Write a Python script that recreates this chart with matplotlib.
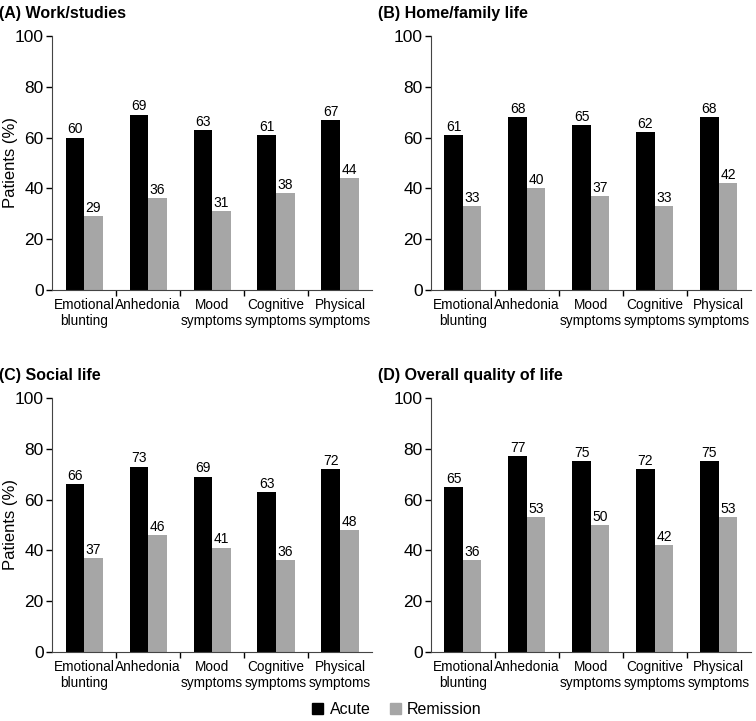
import numpy as np
import matplotlib.pyplot as plt
from matplotlib.patches import Patch

plt.rcParams['font.family'] = ['Liberation Sans', 'DejaVu Sans']

# data
categories = ['Emotional\nblunting', 'Anhedonia', 'Mood\nsymptoms', 'Cognitive\nsymptoms', 'Physical\nsymptoms']
titles = ['(A) Work/studies', '(B) Home/family life', '(C) Social life', '(D) Overall quality of life']
acute = [
    [60, 69, 63, 61, 67],
    [61, 68, 65, 62, 68],
    [66, 73, 69, 63, 72],
    [65, 77, 75, 72, 75],
]
remission = [
    [29, 36, 31, 38, 44],
    [33, 40, 37, 33, 42],
    [37, 46, 41, 36, 48],
    [36, 53, 50, 42, 53],
]
yticks = [0, 20, 40, 60, 80, 100]

c_acute = '#000000'
c_rem = '#a6a6a6'

fig = plt.figure(figsize=(7.56, 7.21), dpi=100)
lefts = [0.069, 0.570]
bottoms = [0.598, 0.096]
w, h = 0.423, 0.352

x = np.arange(len(categories))
bw = 0.29

for i in range(4):
    ax = fig.add_axes([lefts[i % 2], bottoms[i // 2], w, h])
    b1 = ax.bar(x - bw / 2, acute[i], bw, color=c_acute)
    b2 = ax.bar(x + bw / 2, remission[i], bw, color=c_rem)
    for b, v in zip(b1, acute[i]):
        ax.text(b.get_x() + b.get_width() / 2, v + 0.5, str(v), ha='center', va='bottom', fontsize=10)
    for b, v in zip(b2, remission[i]):
        ax.text(b.get_x() + b.get_width() / 2, v + 0.5, str(v), ha='center', va='bottom', fontsize=10)

    ax.set_xlim(-0.5, 4.5)
    ax.set_ylim(0, 100)
    ax.set_yticks(yticks)
    ax.tick_params(axis='y', labelsize=12.5, length=4, width=1, pad=2)
    # ticks between groups, labels under the groups
    ax.set_xticks(x[:-1] + 0.5)
    ax.set_xticklabels([])
    ax.tick_params(axis='x', which='major', length=4, width=1)
    ax.set_xticks(x, minor=True)
    ax.set_xticklabels(categories, minor=True, fontsize=9.8, linespacing=1.2)
    ax.tick_params(axis='x', which='minor', length=0, pad=6)
    ax.spines['top'].set_visible(False)
    ax.spines['right'].set_visible(False)
    ax.spines['left'].set_color('#444444')
    ax.spines['bottom'].set_color('#444444')
    if i % 2 == 0:
        ax.set_ylabel('Patients (%)', fontsize=12)
        ax.yaxis.set_label_coords(-0.108, 0.5)
    ax.set_title(titles[i], loc='left', x=-0.165, fontsize=11.5, fontweight='bold', pad=13)

handles = [Patch(color=c_acute, label='Acute'), Patch(color=c_rem, label='Remission')]
fig.legend(handles=handles, loc='lower center', bbox_to_anchor=(0.525, -0.014), ncol=2, frameon=False,
           fontsize=11.5, handlelength=0.7, handleheight=0.7, handletextpad=0.4, columnspacing=1.2)

fig.savefig('out.png', dpi=100)
